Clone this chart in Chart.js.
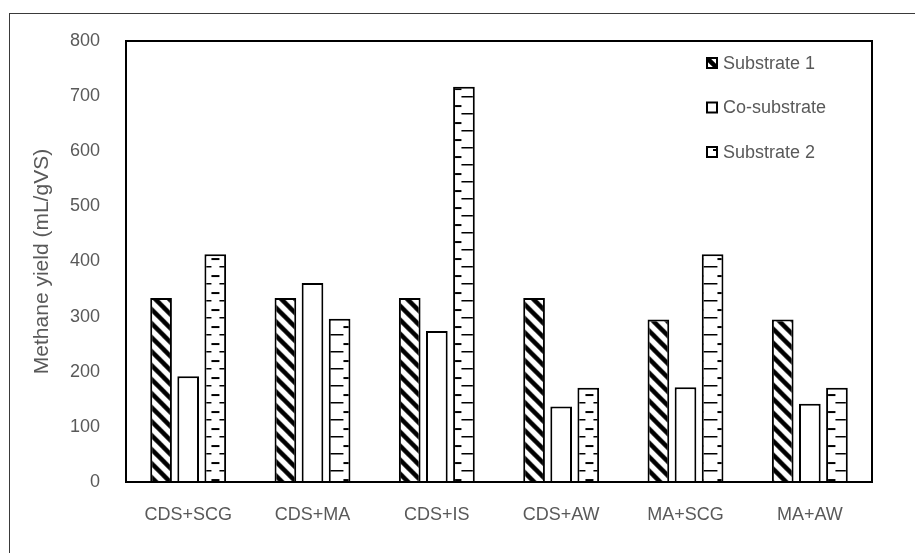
<!DOCTYPE html>
<html>
<head>
<meta charset="utf-8">
<script src="https://cdn.jsdelivr.net/npm/chart.js@4/dist/chart.umd.min.js"></script>
<style>
  html, body { margin: 0; padding: 0; background: #fff; }
  canvas { display: block; }
</style>
</head>
<body>
<canvas id="chart" width="915" height="553"></canvas>
<script>
// data
const categories = ['CDS+SCG', 'CDS+MA', 'CDS+IS', 'CDS+AW', 'MA+SCG', 'MA+AW'];
const seriesNames = ['Substrate 1', 'Co-substrate', 'Substrate 2'];
const substrate1 = [334, 334, 334, 334, 295, 295];
const coSubstrate = [192, 361, 274, 137, 172, 142];
const substrate2 = [413, 296, 717, 171, 413, 171];
const yTicks = [0, 100, 200, 300, 400, 500, 600, 700, 800];

const TEXT = '#595959';
const FONT = '"Liberation Sans", Arial, sans-serif';
const CAT_PCT = 0.654;
const BAR_PCT = 0.8;

// hatch tiles
function stripeTile() {
    const c = document.createElement('canvas');
    c.width = 14; c.height = 14;
    const g = c.getContext('2d');
    g.fillStyle = '#fff';
    g.fillRect(0, 0, 14, 14);
    g.strokeStyle = '#000';
    g.lineWidth = 4.5;
    [-14, 0, 14].forEach(function (o) {
        g.beginPath();
        g.moveTo(o - 2, -2);
        g.lineTo(o + 16, 16);
        g.stroke();
    });
    return c;
}

function dashTile() {
    const c = document.createElement('canvas');
    c.width = 22; c.height = 17;
    const g = c.getContext('2d');
    g.fillStyle = '#fff';
    g.fillRect(0, 0, 22, 17);
    g.fillStyle = '#000';
    g.fillRect(7, 3, 8, 2);        // dash in the middle
    g.fillRect(0, 11, 7, 1.5);     // short ticks at both edges
    g.fillRect(15, 11, 7, 1.5);
    return c;
}

const ctx = document.getElementById('chart').getContext('2d');
const stripes = ctx.createPattern(stripeTile(), 'repeat');
const dashes = ctx.createPattern(dashTile(), 'repeat');

function barLeft(c) {
    const xs = c.chart.scales.x;
    if (!xs) return 0;
    const cat = xs.width / categories.length;
    const step = cat * CAT_PCT / 3;
    const w = step * BAR_PCT;
    return xs.getPixelForValue(c.dataIndex) + (c.datasetIndex - 1) * step - w / 2;
}

function patternAt(p, x, y) {
    if (p.setTransform) p.setTransform(new DOMMatrix().translate(x, y));
    return p;
}

function fillFor(pattern) {
    return function (c) {
        if (c.type !== 'data') return pattern;
        return patternAt(pattern, barLeft(c), 0);
    };
}

// white page with the outer frame
const frame = {
    id: 'frame',
    beforeDraw(chart) {
        const g = chart.ctx;
        g.save();
        g.fillStyle = '#fff';
        g.fillRect(0, 0, chart.width, chart.height);
        g.strokeStyle = '#3a3a3a';
        g.lineWidth = 1;
        g.strokeRect(9.5, 13.5, chart.width + 10, chart.height + 10);
        g.restore();
    },
    afterDatasetsDraw(chart) {
        const a = chart.chartArea;
        const g = chart.ctx;
        g.save();
        g.strokeStyle = '#000';
        g.lineWidth = 2;
        g.strokeRect(a.left, a.top, a.right - a.left, a.bottom - a.top);
        g.restore();
    }
};

// legend inside the plot, top right
const boxLegend = {
    id: 'boxLegend',
    afterDraw(chart) {
        const g = chart.ctx;
        const x = 706, rows = [63, 107.5, 152];
        g.save();
        g.font = '18px ' + FONT;
        g.textBaseline = 'middle';
        chart.data.datasets.forEach(function (ds, i) {
            const y = rows[i];
            const bg = ds.legendFill;
            g.fillStyle = (bg instanceof CanvasPattern) ? patternAt(bg, x, y - 6) : bg;
            g.fillRect(x, y - 6, 12, 12);
            g.strokeStyle = '#000';
            g.lineWidth = 2;
            g.strokeRect(x + 1, y - 5, 10, 10);
            g.fillStyle = TEXT;
            g.fillText(ds.label, x + 17, y + 1);
        });
        g.restore();
    }
};

new Chart(ctx, {
    type: 'bar',
    data: {
        labels: categories,
        datasets: [{
            label: seriesNames[0],
            data: substrate1,
            backgroundColor: fillFor(stripes),
            legendFill: stripes,
            borderColor: '#000',
            borderWidth: 2
        }, {
            label: seriesNames[1],
            data: coSubstrate,
            backgroundColor: '#fff',
            legendFill: '#fff',
            borderColor: '#000',
            borderWidth: 2
        }, {
            label: seriesNames[2],
            data: substrate2,
            backgroundColor: fillFor(dashes),
            legendFill: dashes,
            borderColor: '#000',
            borderWidth: 2
        }]
    },
    options: {
        responsive: false,
        animation: false,
        categoryPercentage: CAT_PCT,
        barPercentage: BAR_PCT,
        layout: { padding: { top: 41, right: 43, bottom: 0, left: 0 } },
        plugins: {
            legend: { display: false },
            tooltip: { enabled: false }
        },
        scales: {
            x: {
                grid: { display: false, drawTicks: false },
                border: { display: false },
                ticks: {
                    color: TEXT,
                    padding: 22,
                    font: { family: FONT, size: 18 }
                },
                afterFit(s) { s.height = 71; }
            },
            y: {
                min: 0,
                max: 800,
                afterBuildTicks(s) { s.ticks = yTicks.map(v => ({ value: v })); },
                grid: { display: false, drawTicks: false },
                border: { display: false },
                ticks: {
                    color: TEXT,
                    padding: 26,
                    font: { family: FONT, size: 18 }
                },
                title: {
                    display: true,
                    text: 'Methane yield (mL/gVS)',
                    color: TEXT,
                    padding: { top: 30, bottom: 0 },
                    font: { family: FONT, size: 21 }
                },
                afterFit(s) { s.width = 126; }
            }
        }
    },
    plugins: [frame, boxLegend]
});
</script>
</body>
</html>
